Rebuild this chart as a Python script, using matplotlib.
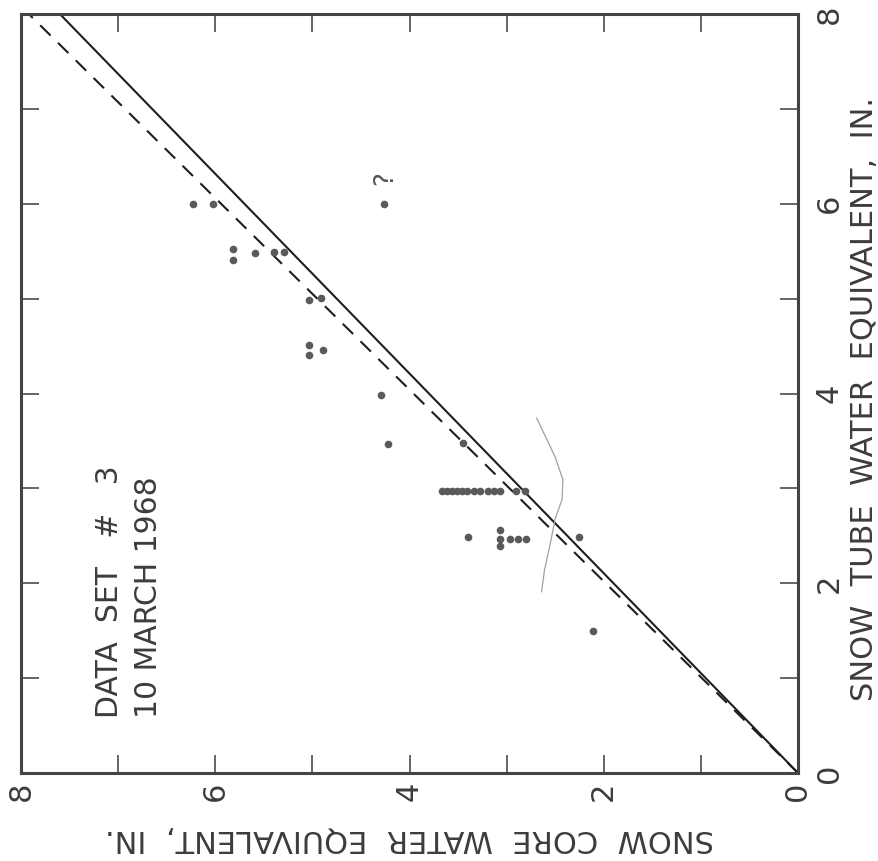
import matplotlib.pyplot as plt
import numpy as np

plt.rcParams['font.family'] = ['DejaVu Sans']

# snow tube vs snow core water equivalent (inches)
tube = [6.00, 6.00, 6.00,
        5.52, 5.41, 5.48, 5.49, 5.49,
        4.99, 5.01, 4.51, 4.41, 4.46,
        3.98, 3.47, 3.48,
        2.97, 2.97, 2.97, 2.97, 2.97, 2.97, 2.97, 2.97, 2.97, 2.97, 2.97,
        2.97, 2.97,
        2.49, 2.56, 2.47, 2.39, 2.47, 2.47, 2.47, 2.49,
        1.50]
core = [6.23, 6.02, 4.26,
        5.82, 5.82, 5.59, 5.40, 5.29,
        5.03, 4.91, 5.03, 5.03, 4.89,
        4.29, 4.22, 3.45,
        3.67, 3.61, 3.56, 3.51, 3.46, 3.41, 3.34, 3.27, 3.19, 3.13, 3.07,
        2.90, 2.81,
        3.40, 3.07, 3.07, 3.07, 2.97, 2.88, 2.80, 2.25,
        2.11]

# fitted lines through the origin: core = slope * tube
solid_slope = 0.95
dashed_slope = 0.99

# pencil mark on the scan
pencil_tube = [3.74, 3.33, 3.09, 2.88, 2.68, 2.42, 2.14, 1.91]
pencil_core = [2.69, 2.50, 2.42, 2.43, 2.50, 2.55, 2.61, 2.64]

major = [0, 2, 4, 6, 8]
minor = [1, 3, 5, 7]

ink = '#3c3c3c'

fig = plt.figure(figsize=(8.79, 8.61), dpi=100)
ax = fig.add_axes([21/879, 88/861, 777/879, 759/861])

t = np.array([0, 8.0])
ax.plot(solid_slope*t, t, color='#1e1e1e', lw=1.5)
ax.plot(dashed_slope*t, t, color='#1e1e1e', lw=1.5, ls=(0, (7, 5)))
ax.plot(pencil_core, pencil_tube, color='#a0a0a0', lw=0.9)
ax.plot(core, tube, 'o', ms=5.5, color='#5a5a5a', mec='none')

ax.text(4.25, 6.27, '?', rotation=90, fontsize=19, color='#555555',
        ha='center', va='center')

ax.text(7.09, 0.58, 'DATA  SET   #   3', rotation=90, rotation_mode='anchor',
        ha='left', va='center', fontsize=21.5, color=ink)
ax.text(6.69, 0.58, '10 MARCH 1968', rotation=90, rotation_mode='anchor',
        ha='left', va='center', fontsize=21.5, color=ink)

ax.set_xlim(8, 0)
ax.set_ylim(0, 8)
ax.set_xticks(major)
ax.set_xticks(minor, minor=True)
ax.set_yticks(major)
ax.set_yticks(minor, minor=True)
ax.tick_params(which='both', direction='in', length=13, width=1.1,
               top=True, bottom=True, left=True, right=True,
               labelleft=False, labelright=True, labelbottom=True,
               color=ink, labelcolor=ink, labelsize=22)
ax.tick_params(axis='x', pad=6, labelrotation=90)
ax.tick_params(axis='y', pad=12, labelrotation=90)
for lab in ax.get_yticklabels():
    lab.set_va('center')

for s in ax.spines.values():
    s.set_linewidth(2.2)
    s.set_color('#444444')

ax.set_xlabel('SNOW  CORE  WATER  EQUIVALENT,  IN.', rotation=180,
              fontsize=22, color=ink, va='center', ha='center')
ax.xaxis.set_label_coords(0.5, -0.086)
ax.yaxis.set_label_position('right')
ax.set_ylabel('SNOW  TUBE  WATER  EQUIVALENT,  IN.', rotation=90,
              fontsize=22, color=ink, va='center', ha='center')
ax.yaxis.set_label_coords(1.085, 0.493)

fig.savefig('out.png', dpi=100)
